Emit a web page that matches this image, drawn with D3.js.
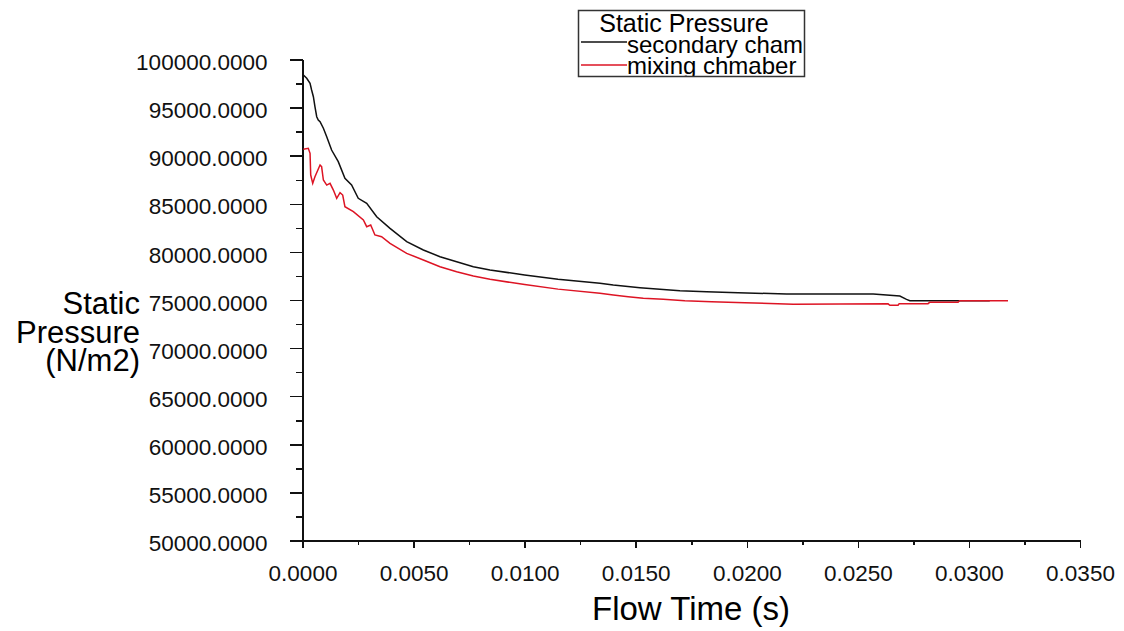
<!doctype html>
<html lang="en">
<head>
  <meta charset="utf-8">
  <title>Static Pressure</title>
  <style>
    body { margin: 0; background: #fff; }
    svg { font-family: "Liberation Sans", Arial, sans-serif; }
    .axis path, .axis line { stroke: #111; stroke-width: 1.5px; shape-rendering: crispEdges; }
    .axis text { font-size: 22.5px; fill: #111; }
    .series { fill: none; stroke-width: 1.5px; }
  </style>
</head>
<body>
<svg id="chart" width="1124" height="631"></svg>
<script src="https://cdn.jsdelivr.net/npm/d3@7"></script>
<script>
// values
var secondaryTime = [0.00004, 0.00019, 0.00034, 0.00041, 0.00049, 0.00056, 0.00064, 0.00071, 0.00079, 0.00094,
  0.00109, 0.00131, 0.00161, 0.00191, 0.00221, 0.00251, 0.00289, 0.00334, 0.00394, 0.00469,
  0.00544, 0.00619, 0.00694, 0.00769, 0.00844, 0.0100, 0.0115, 0.01339, 0.01399, 0.01519,
  0.01609, 0.01699, 0.01819, 0.01961, 0.02179, 0.02569, 0.02689, 0.02719, 0.02734, 0.03094];
var secondaryPressure = [98390, 98050, 97530, 96830, 96130, 95090, 94050, 93710, 93530, 92850,
  91980, 90590, 89380, 87650, 86960, 85570, 85050, 83660, 82450, 81060,
  80200, 79500, 78980, 78460, 78120, 77600, 77150, 76740, 76560, 76280,
  76110, 75970, 75860, 75760, 75620, 75620, 75410, 75070, 74930, 74930];

var mixingTime = [0.00004, 0.00026, 0.00034, 0.00037, 0.00046, 0.00056, 0.00079, 0.00086, 0.00094, 0.00109,
  0.00124, 0.00139, 0.00154, 0.00169, 0.00181, 0.00191, 0.00229, 0.00274, 0.00289, 0.00307,
  0.00326, 0.00356, 0.00394, 0.00469, 0.00544, 0.00619, 0.00694, 0.00769, 0.00844, 0.0100,
  0.0115, 0.01339, 0.01399, 0.01466, 0.01534, 0.01624, 0.01721, 0.01841, 0.01991, 0.02209,
  0.02636, 0.02644, 0.02681, 0.02686, 0.02816, 0.02823, 0.02951, 0.02958, 0.03176];
var mixingPressure = [90660, 90770, 90250, 87990, 87130, 87820, 89030, 88860, 87470, 86950,
  87130, 86430, 85570, 86150, 85910, 84700, 84180, 83320, 82620, 82800,
  81760, 81580, 80890, 79850, 79160, 78460, 77940, 77490, 77150, 76600,
  76130, 75700, 75520, 75340, 75170, 75070, 74930, 74820, 74720, 74570,
  74600, 74450, 74450, 74620, 74620, 74760, 74760, 74930, 74930];

var yTicks = d3.range(50000, 100001, 5000);
var yMinor = d3.range(52500, 100000, 5000);
var xTicks = d3.range(0, 0.03501, 0.005);
var xMinor = d3.range(0.0025, 0.035, 0.005);
var legendTitle = "Static Pressure";
var legendNames = ["secondary cham", "mixing chmaber"];
var seriesColors = ["#111111", "#dd1424"];

var svg = d3.select("#chart");

var x = d3.scaleLinear().domain([0, 0.035]).range([302.5, 1080]);
var y = d3.scaleLinear().domain([50000, 100000]).range([540.5, 59.5]);

// minor ticks first
svg.append("g").attr("class", "axis")
    .attr("transform", "translate(" + x(0) + ",0)")
    .call(d3.axisLeft(y).tickValues(yMinor).tickSize(7).tickFormat(""))
    .select(".domain").remove();
svg.append("g").attr("class", "axis")
    .attr("transform", "translate(0," + y(50000) + ")")
    .call(d3.axisBottom(x).tickValues(xMinor).tickSize(4).tickFormat(""))
    .select(".domain").remove();

var yAxis = svg.append("g").attr("class", "axis")
    .attr("transform", "translate(" + x(0) + ",0)")
    .call(d3.axisLeft(y).tickValues(yTicks).tickSize(13).tickSizeOuter(0)
      .tickPadding(22).tickFormat(d3.format(".4f")));
yAxis.selectAll("text").attr("dy", "0.45em");

var xAxis = svg.append("g").attr("class", "axis")
    .attr("transform", "translate(0," + y(50000) + ")")
    .call(d3.axisBottom(x).tickValues(xTicks).tickSize(7).tickSizeOuter(0)
      .tickPadding(18).tickFormat(d3.format(".4f")));

// axis titles
svg.append("text")
    .attr("x", 691).attr("y", 620)
    .attr("text-anchor", "middle")
    .style("font-size", "33px")
    .text("Flow Time (s)");

var yTitle = svg.append("text")
    .attr("text-anchor", "end")
    .style("font-size", "31px");
["Static", "Pressure", "(N/m2)"].forEach(function(s, i) {
  yTitle.append("tspan").attr("x", 140).attr("y", 314 + i * 28.5).text(s);
});

// series
var line = d3.line()
    .x(function(d) { return x(d[0]); })
    .y(function(d) { return y(d[1]); });

var series = [
  d3.zip(secondaryTime, secondaryPressure),
  d3.zip(mixingTime, mixingPressure)
];

svg.selectAll("path.series")
    .data(series)
  .enter().append("path")
    .attr("class", "series")
    .attr("stroke", function(d, i) { return seriesColors[i]; })
    .attr("d", line);

// legend, clipped to its box like the original
var lx = 578.5, ly = 10.5, lw = 226, lh = 66;
svg.append("clipPath").attr("id", "legendClip")
  .append("rect").attr("x", lx).attr("y", ly).attr("width", lw).attr("height", lh);

var legend = svg.append("g").attr("clip-path", "url(#legendClip)");
legend.append("text")
    .attr("x", 684).attr("y", 32)
    .attr("text-anchor", "middle")
    .style("font-size", "25px")
    .text(legendTitle);

legendNames.forEach(function(name, i) {
  var yy = 42 + i * 23;
  legend.append("line")
      .attr("x1", 581).attr("x2", 627)
      .attr("y1", yy).attr("y2", yy)
      .attr("stroke", seriesColors[i]).attr("stroke-width", 1.5);
  legend.append("text")
      .attr("x", 627).attr("y", 53 + i * 21)
      .style("font-size", "24px")
      .text(name);
});

svg.append("rect")
    .attr("x", lx).attr("y", ly).attr("width", lw).attr("height", lh)
    .attr("fill", "none").attr("stroke", "#333").attr("stroke-width", 1.5);
</script>
</body>
</html>
